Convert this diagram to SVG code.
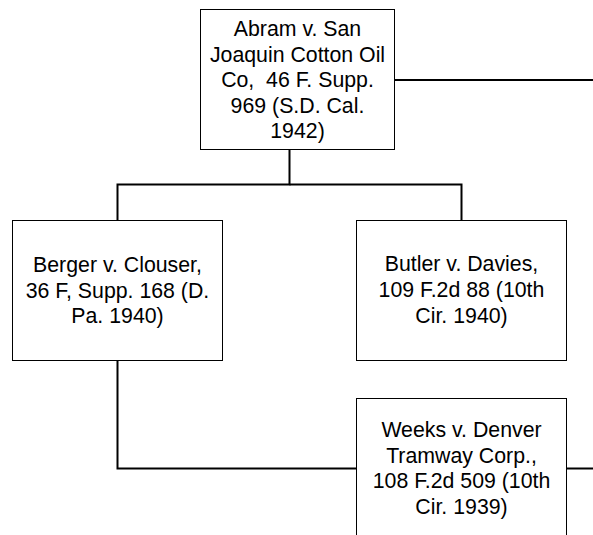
<svg xmlns="http://www.w3.org/2000/svg" width="593" height="535" viewBox="0 0 593 535">
<style>
.box{fill:#fff;stroke:#000;stroke-width:1}
.lbl{font-family:"Liberation Sans",Arial,sans-serif;font-size:21.3px;fill:#000;text-anchor:middle;white-space:pre}
.con{fill:none;stroke:#000;stroke-width:2}
</style>
<rect width="593" height="535" fill="#fff"/>
<g id="connectors">
<polyline class="con" points="289.5,150 289.5,184.5 117.5,184.5 117.5,220"/>
<polyline class="con" points="289.5,184.5 461.5,184.5 461.5,220"/>
<line class="con" x1="394" y1="80" x2="593" y2="80"/>
<polyline class="con" points="117.5,360 117.5,468.5 356,468.5"/>
<line class="con" x1="566.5" y1="468.5" x2="593" y2="468.5"/>
</g>
<g id="abram">
<rect class="box" x="200.5" y="9.5" width="194" height="140"/>
<text class="lbl" x="297.5" y="36">Abram v. San</text>
<text class="lbl" x="297.5" y="61.5">Joaquin Cotton Oil</text>
<text class="lbl" x="297.5" y="87" xml:space="preserve">Co,  46 F. Supp.</text>
<text class="lbl" x="297.5" y="112.5">969 (S.D. Cal.</text>
<text class="lbl" x="297.5" y="137.5">1942)</text>
</g>
<g id="berger">
<rect class="box" x="12.5" y="220.5" width="210" height="140"/>
<text class="lbl" x="117.5" y="272">Berger v. Clouser,</text>
<text class="lbl" x="117.5" y="297.5">36 F, Supp. 168 (D.</text>
<text class="lbl" x="117.5" y="323">Pa. 1940)</text>
</g>
<g id="butler">
<rect class="box" x="356.5" y="220.5" width="210" height="140"/>
<text class="lbl" x="461.5" y="271">Butler v. Davies,</text>
<text class="lbl" x="461.5" y="296.5">109 F.2d 88 (10th</text>
<text class="lbl" x="461.5" y="322.5">Cir. 1940)</text>
</g>
<g id="weeks">
<rect class="box" x="356.5" y="398.5" width="210" height="150"/>
<text class="lbl" x="461.5" y="436.5">Weeks v. Denver</text>
<text class="lbl" x="461.5" y="462.5">Tramway Corp.,</text>
<text class="lbl" x="461.5" y="488">108 F.2d 509 (10th</text>
<text class="lbl" x="461.5" y="513.5">Cir. 1939)</text>
</g>
</svg>
